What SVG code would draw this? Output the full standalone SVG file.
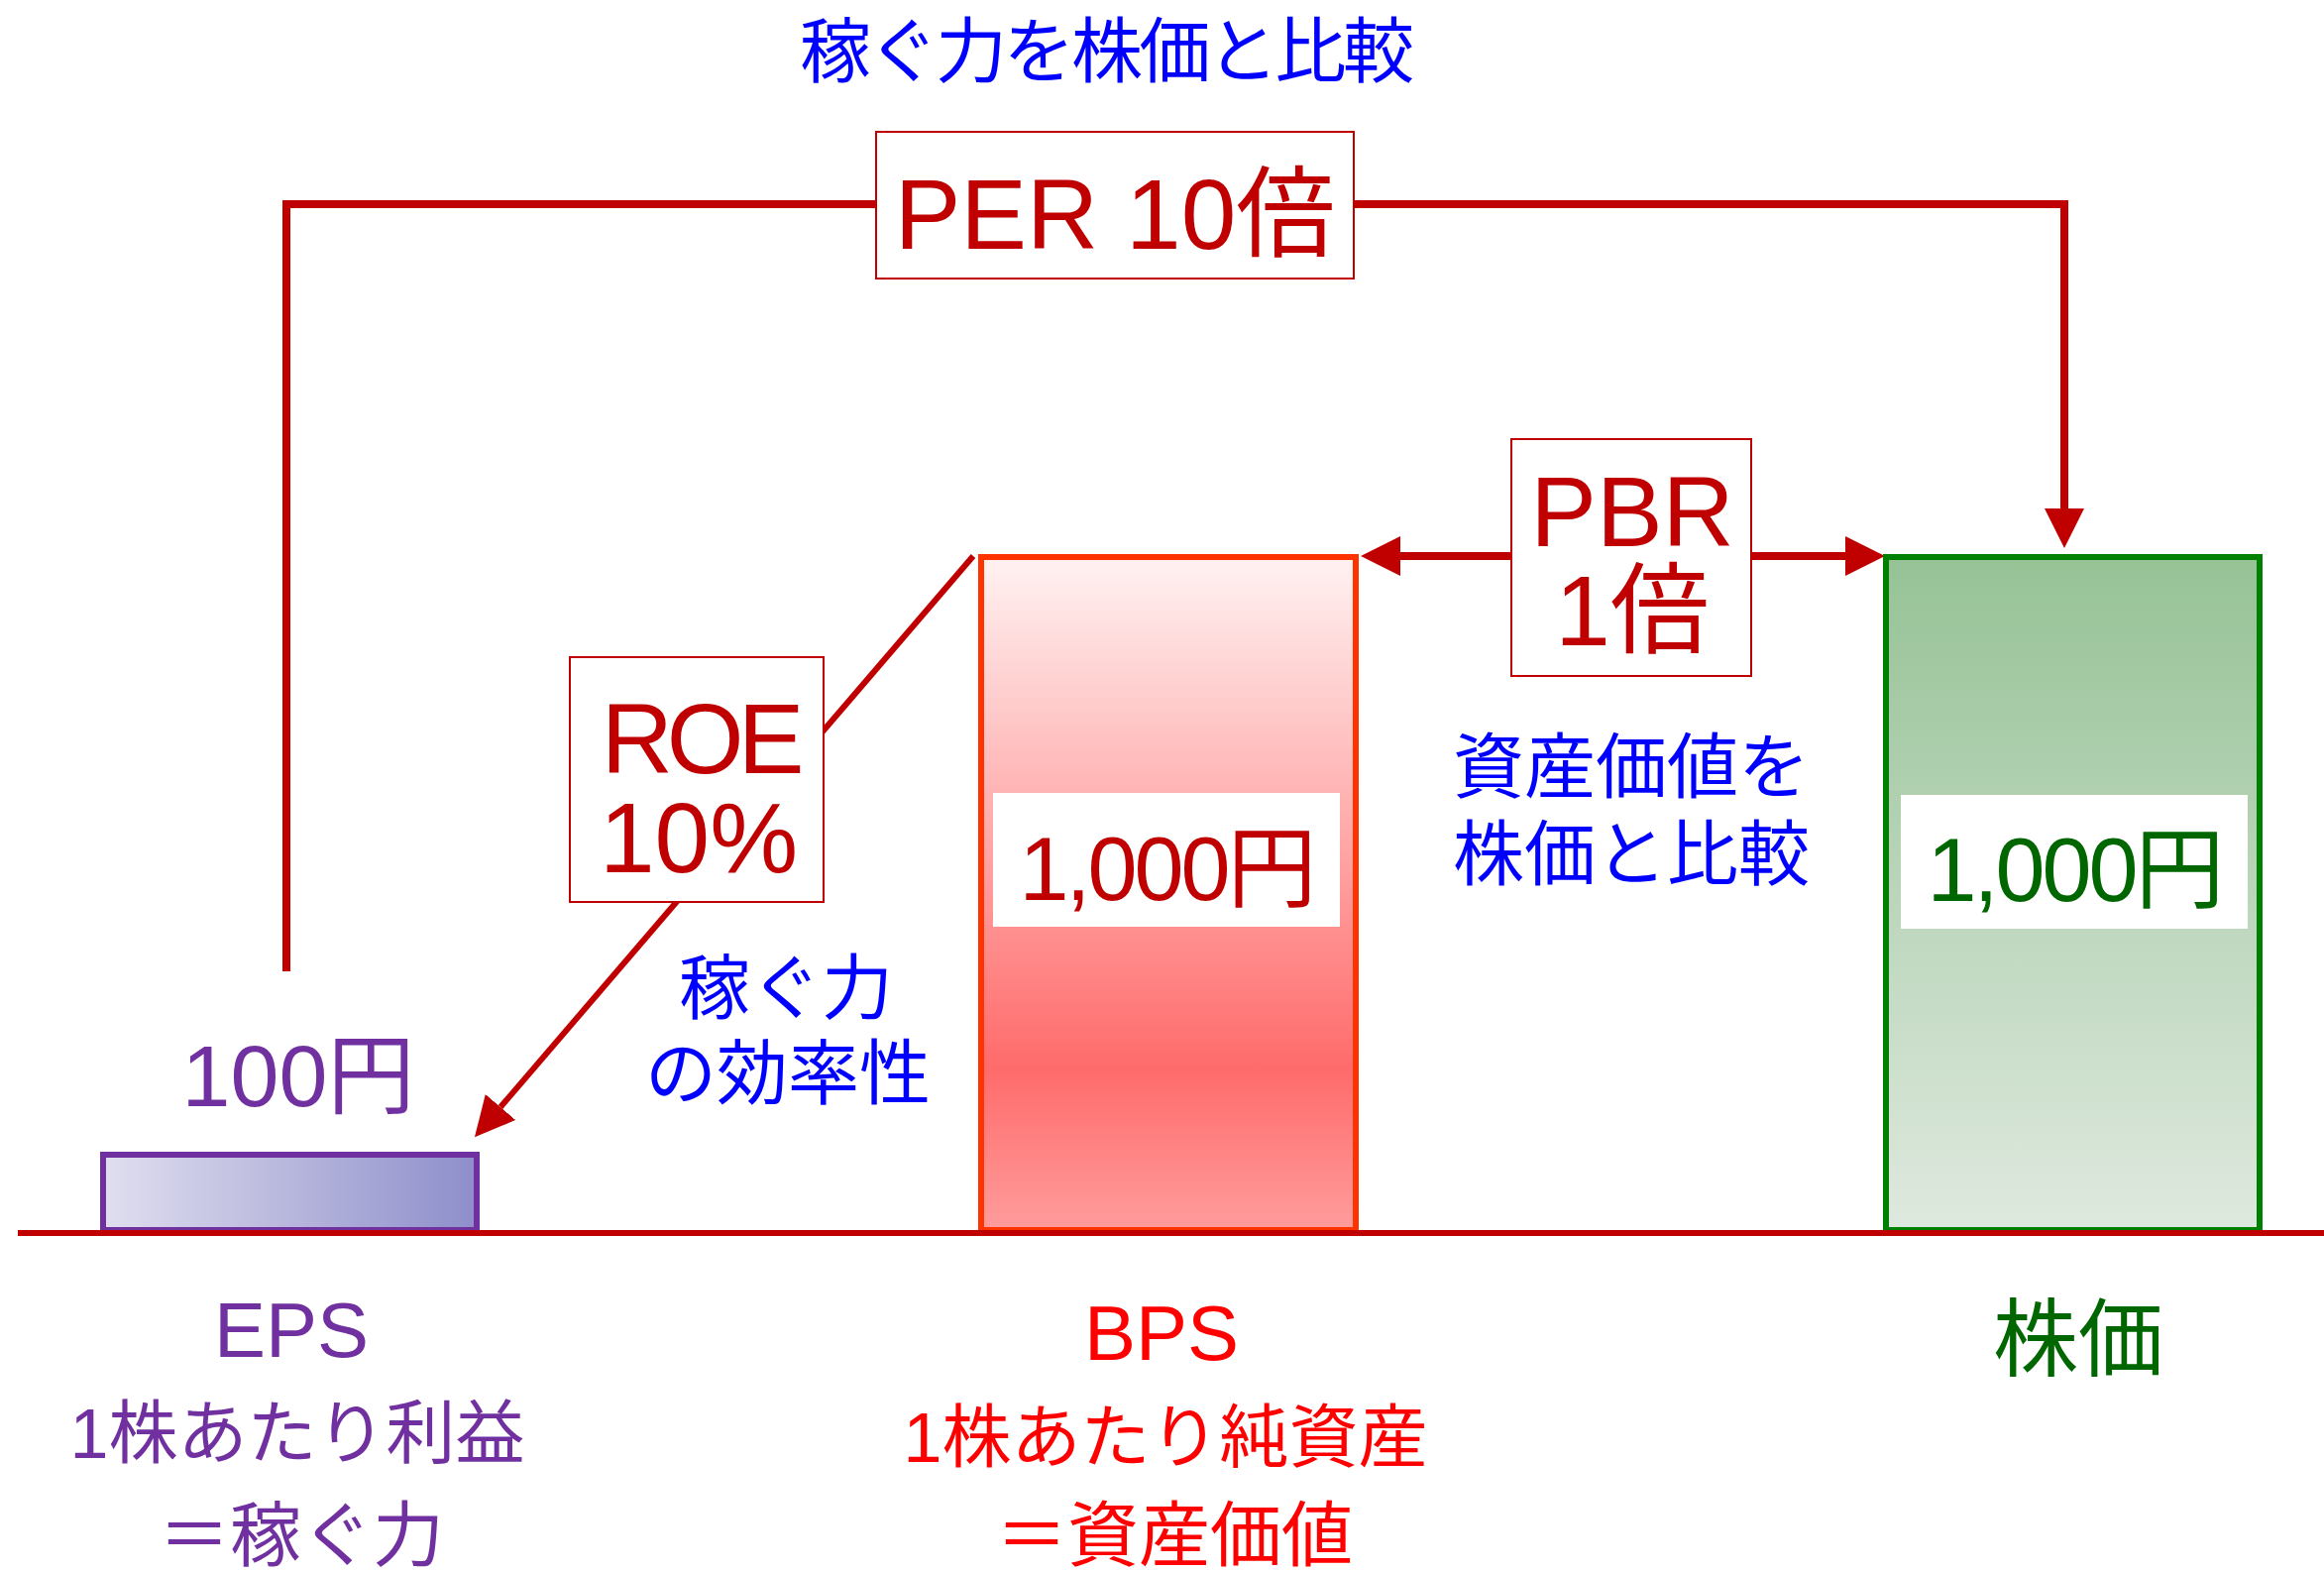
<svg xmlns="http://www.w3.org/2000/svg" width="2345" height="1585" viewBox="0 0 2345 1585">
<style>
  text { font-family: "Liberation Sans", "Noto Sans CJK JP", sans-serif; text-anchor: middle; }
  .jp { font-family: "Noto Sans CJK JP", "Liberation Sans", sans-serif; }
  .blue { fill: #0000FF; }
  .dred { fill: #C00000; }
  .purple { fill: #7030A0; }
  .red { fill: #FF0000; }
  .green { fill: #006600; }
  .lbl { fill: #FFFFFF; stroke: #C00000; stroke-width: 2; }
  .conn { fill: none; stroke: #C00000; }
</style>
<defs>
  <marker id="ah" markerUnits="userSpaceOnUse" markerWidth="40" markerHeight="40" refX="0" refY="20" orient="auto-start-reverse" viewBox="0 0 40 40">
    <path d="M0,0 L40,20 L0,40 z" fill="#C00000"/>
  </marker>
  <linearGradient id="gEps" x1="0" y1="0" x2="1" y2="0">
    <stop offset="0" stop-color="#E0DFEF"/>
    <stop offset="1" stop-color="#8E8ECB"/>
  </linearGradient>
  <linearGradient id="gBps" x1="0" y1="0" x2="0" y2="1">
    <stop offset="0" stop-color="#FFF2F2"/>
    <stop offset="0.76" stop-color="#FF6B6B"/>
    <stop offset="1" stop-color="#FF9C9C"/>
  </linearGradient>
  <linearGradient id="gPrice" x1="0" y1="0" x2="0" y2="1">
    <stop offset="0" stop-color="#96C296"/>
    <stop offset="1" stop-color="#DFE9DF"/>
  </linearGradient>
</defs>
<rect width="2345" height="1585" fill="#FFFFFF"/>

<g id="title">
  <text class="jp blue" x="1117" y="77" font-size="72" textLength="620" lengthAdjust="spacing">稼ぐ力を株価と比較</text>
</g>

<g id="connectors">
  <path class="conn" stroke-width="8" d="M289,980 L289,206 L2083,206 L2083,513" marker-end="url(#ah)"/>
  <path class="conn" stroke-width="8" d="M1413,561 L1862,561" marker-start="url(#ah)" marker-end="url(#ah)"/>
  <path class="conn" stroke-width="6" d="M982,561 L505,1117" marker-end="url(#ah)"/>
</g>

<g id="eps-bar">
  <rect x="104" y="1165" width="377" height="76" fill="url(#gEps)" stroke="#7030A0" stroke-width="6"/>
  <text class="purple" x="301" y="1116" font-size="88">100円</text>
</g>

<g id="bps-bar">
  <rect x="990" y="562" width="378" height="679" fill="url(#gBps)" stroke="#FF3300" stroke-width="6"/>
  <rect x="1002" y="800" width="350" height="135" fill="#FFFFFF"/>
  <text class="dred" x="1177" y="908" font-size="90" letter-spacing="-3">1,000円</text>
</g>

<g id="price-bar">
  <rect x="1903" y="562" width="377" height="679" fill="url(#gPrice)" stroke="#008000" stroke-width="6"/>
  <rect x="1918" y="802" width="350" height="135" fill="#FFFFFF"/>
  <text class="green" x="2093" y="909" font-size="90" letter-spacing="-3">1,000円</text>
</g>

<g id="per-label">
  <rect class="lbl" x="884" y="133" width="482" height="148"/>
  <text class="dred" x="1125" y="251" font-size="100">PER 10倍</text>
</g>

<g id="pbr-label">
  <rect class="lbl" x="1525" y="443" width="242" height="239"/>
  <text class="dred" x="1647" y="551" font-size="100">PBR</text>
  <text class="dred" x="1647" y="651" font-size="100">1倍</text>
</g>

<g id="roe-label">
  <rect class="lbl" x="575" y="663" width="256" height="247"/>
  <text class="dred" x="706" y="780" font-size="100" letter-spacing="-6">ROE</text>
  <text class="dred" x="705" y="880" font-size="100">10%</text>
</g>

<g id="note-pbr">
  <text class="jp blue" x="1646" y="799" font-size="72">資産価値を</text>
  <text class="jp blue" x="1646" y="887" font-size="72">株価と比較</text>
</g>

<g id="note-roe">
  <text class="jp blue" x="793" y="1022" font-size="72">稼ぐ力</text>
  <text class="jp blue" x="795" y="1108" font-size="72">の効率性</text>
</g>

<g id="baseline">
  <line x1="18" y1="1244" x2="2345" y2="1244" stroke="#C00000" stroke-width="6"/>
</g>

<g id="eps-caption">
  <text class="purple" x="294" y="1369" font-size="78">EPS</text>
  <text class="purple" x="300" y="1471" font-size="70">1株あたり利益</text>
  <text class="purple" x="304" y="1574" font-size="72">＝稼ぐ力</text>
</g>

<g id="bps-caption">
  <text class="red" x="1172" y="1372" font-size="78">BPS</text>
  <text class="red" x="1176" y="1475" font-size="70">1株あたり純資産</text>
  <text class="red" x="1185" y="1574" font-size="72">＝資産価値</text>
</g>

<g id="price-caption">
  <text class="jp green" x="2097" y="1382" font-size="86">株価</text>
</g>
</svg>
